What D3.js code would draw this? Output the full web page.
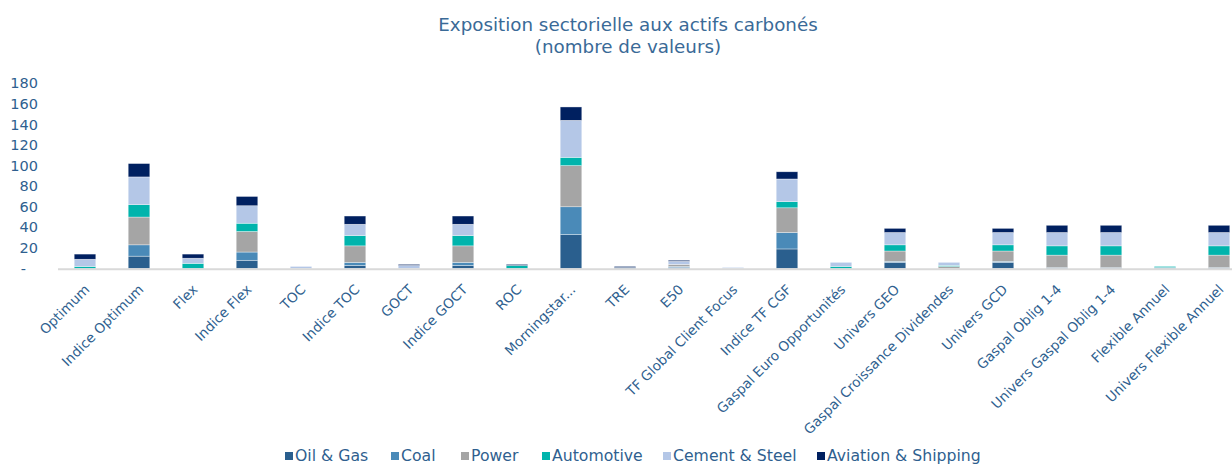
<!DOCTYPE html>
<html>
<head>
<meta charset="utf-8">
<script src="https://cdn.jsdelivr.net/npm/d3@7/dist/d3.min.js"></script>
<style>
  html, body { margin: 0; padding: 0; background: #fff; }
  svg { display: block; }
  text { font-family: "DejaVu Sans", Verdana, sans-serif; fill: #2f5f8f; }
</style>
</head>
<body>
<svg id="chart" width="1232" height="466"></svg>
<script>
const categories = ["Optimum", "Indice Optimum", "Flex", "Indice Flex", "TOC", "Indice TOC", "GOCT", "Indice GOCT", "ROC", "Morningstar...", "TRE", "E50", "TF Global Client Focus", "Indice TF CGF", "Gaspal Euro Opportunités", "Univers GEO", "Gaspal Croissance Dividendes", "Univers GCD", "Gaspal Oblig 1-4", "Univers Gaspal Oblig 1-4", "Flexible Annuel", "Univers Flexible Annuel"];
const seriesNames = ["Oil & Gas", "Coal", "Power", "Automotive", "Cement & Steel", "Aviation & Shipping"];
const seriesColors = ["#2a5f8e", "#4a8ab8", "#a5a5a5", "#00b4ac", "#b4c7e7", "#002060"];
const oilGas      = [0, 12, 0, 8, 0, 3, 0, 3, 0, 33, 1, 1, 0, 19, 0, 6, 0, 6, 1, 1, 0, 1];
const coal        = [0, 11, 0, 8, 0, 3, 0, 3, 0, 27, 0, 1, 0, 16, 0, 1, 0, 1, 0, 0, 1, 0];
const power       = [0, 27, 0, 20, 0, 16, 0, 16, 0, 40, 0, 2, 0, 24, 0, 10, 2, 10, 12, 12, 0, 12];
const automotive  = [2, 12, 5, 8, 0, 10, 0, 10, 3, 8, 0, 0, 0, 6, 2, 6, 1, 6, 9, 9, 1, 9];
const cementSteel = [7, 27, 5, 17, 2, 11, 3, 11, 0, 36, 0, 3, 1, 22, 4, 12, 3, 12, 13, 13, 0, 13];
const aviation    = [5, 13, 4, 9, 0, 8, 1, 8, 1, 13, 1, 1, 0, 7, 0, 4, 0, 4, 7, 7, 0, 7];
const yTicks = [0, 20, 40, 60, 80, 100, 120, 140, 160, 180];
const titleLines = ["Exposition sectorielle aux actifs carbonés", "(nombre de valeurs)"];

const seriesValues = [oilGas, coal, power, automotive, cementSteel, aviation];
const table = categories.map((c, i) => {
  const row = { category: c };
  seriesNames.forEach((s, j) => { row[s] = seriesValues[j][i]; });
  return row;
});

const svg = d3.select("#chart");
const x = d3.scaleBand().domain(categories).range([58, 1246]).paddingInner(0.6).paddingOuter(0.3);
const y = d3.scaleLinear().domain([0, 180]).range([268.5, 83.3]);
const color = d3.scaleOrdinal().domain(seriesNames).range(seriesColors);

const stacked = d3.stack().keys(seriesNames)(table);

// title
svg.append("text").attr("x", 628).attr("y", 31).attr("text-anchor", "middle")
  .style("font-size", "18.3px").style("fill", "#3a6a97").text(titleLines[0]);
svg.append("text").attr("x", 628).attr("y", 53).attr("text-anchor", "middle")
  .style("font-size", "18.3px").style("fill", "#3a6a97").text(titleLines[1]);

// bars
svg.append("g").selectAll("g").data(stacked).join("g")
  .attr("fill", d => color(d.key))
  .selectAll("rect").data(d => d).join("rect")
  .attr("x", d => x(d.data.category))
  .attr("width", x.bandwidth())
  .attr("y", d => y(d[1]))
  .attr("height", d => Math.max(0, y(d[0]) - y(d[1])))
  .attr("stroke", "#ffffff").attr("stroke-opacity", 0.6).attr("stroke-width", 0.6);

// x axis line
svg.append("line").attr("x1", 58).attr("x2", 1246).attr("y1", y(0) + 0.8).attr("y2", y(0) + 0.8)
  .attr("stroke", "#d9d9d9").attr("stroke-width", 2);

// y axis
const yAxis = d3.axisLeft(y).tickValues(yTicks).tickSize(0).tickPadding(0)
  .tickFormat(d => d === 0 ? "-" : d3.format("d")(d));
const gy = svg.append("g").attr("transform", "translate(38,0)").call(yAxis);
gy.select(".domain").remove();
gy.selectAll("text").style("font-size", "14.5px").style("fill", "#2f5f8f")
  .attr("dx", d => d === 0 ? -12 : 0);

// x axis labels
const xAxis = d3.axisBottom(x).tickSize(0).tickPadding(0);
const gx = svg.append("g").call(xAxis);
gx.select(".domain").remove();
gx.selectAll(".tick").attr("transform", d => `translate(${x(d) + x.bandwidth() / 2 + 2},287)`);
gx.selectAll(".tick text")
  .attr("x", 0).attr("y", 0).attr("dy", "0.35em")
  .attr("text-anchor", "end")
  .attr("transform", "rotate(-45)")
  .style("font-size", "13.6px").style("fill", "#2f5f8f");

// legend
const legendX = [285, 391, 461, 542, 663, 817];
const lg = svg.append("g");
seriesNames.forEach((s, i) => {
  lg.append("rect").attr("x", legendX[i]).attr("y", 452).attr("width", 8).attr("height", 8).attr("fill", color(s));
  lg.append("text").attr("x", legendX[i] + 10).attr("y", 461).style("font-size", "15.7px").style("fill", "#2f5f8f").text(s);
});
</script>
</body>
</html>
